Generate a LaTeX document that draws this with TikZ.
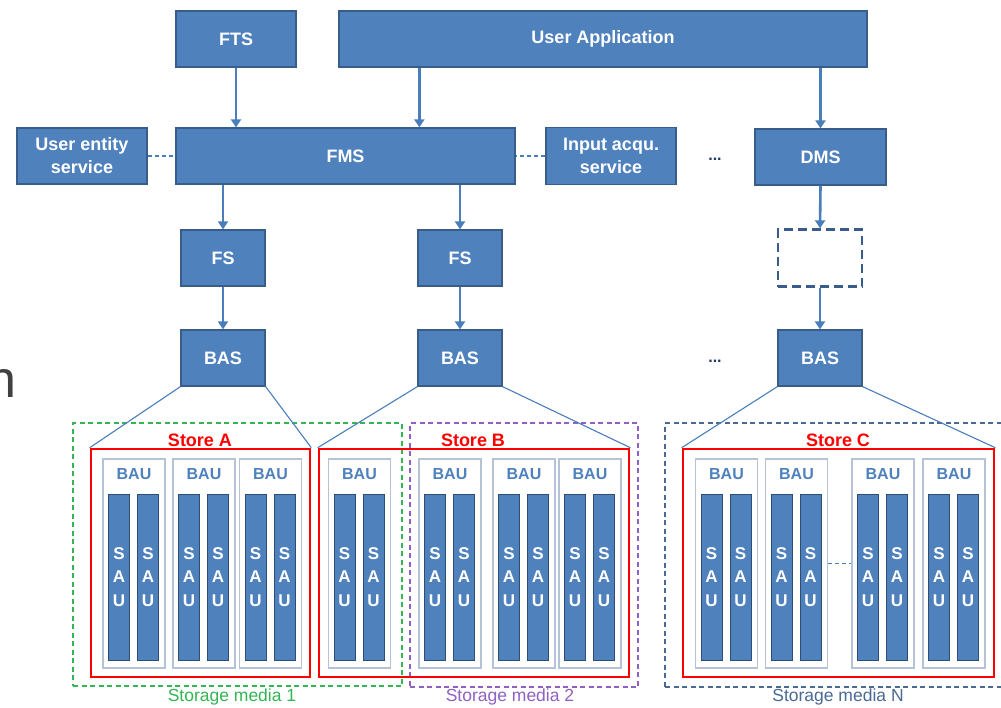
\documentclass[tikz,border=0pt]{standalone}
\usepackage{fontspec}
\setmainfont{Liberation Sans}
\usetikzlibrary{arrows.meta,calc}
\definecolor{boxfill}{HTML}{4F81BD}
\definecolor{boxborder}{HTML}{385D8A}
\definecolor{arrowc}{HTML}{4A7EBB}
\definecolor{bauline}{HTML}{B4C3D7}
\definecolor{sauborder}{HTML}{2C4D75}
\definecolor{storered}{HTML}{FF0000}
\definecolor{mgreen}{HTML}{33B553}
\definecolor{mpurple}{HTML}{9060C4}
\definecolor{mblue}{HTML}{4A6A94}
\definecolor{dotc}{HTML}{1F3864}
\definecolor{graytext}{HTML}{404040}
\tikzset{
  blk/.style={draw=boxborder, fill=boxfill, line width=1.3pt, text=white,
    font=\bfseries\fontsize{18}{23}\selectfont, inner sep=0pt, align=center},
  arr/.style={draw=arrowc, line width=2.6pt, -{Triangle[width=10pt,length=8pt]}},
  dashlink/.style={draw=arrowc, line width=1.3pt, dash pattern=on 4pt off 3pt},
  fan/.style={draw=arrowc, line width=1.1pt},
  media/.style={line width=1.2pt, dash pattern=on 5pt off 3.5pt, inner sep=0pt},
  storebox/.style={draw=storered, line width=2.6pt, inner sep=0pt},
  storelabel/.style={text=storered, font=\bfseries\fontsize{18}{20}\selectfont, inner sep=0pt},
  baubox/.style={draw=bauline, fill=white, line width=1.2pt, minimum width=62pt, minimum height=209pt, inner sep=0pt},
  bautext/.style={text=boxfill, font=\bfseries\fontsize{16}{18}\selectfont, inner sep=0pt},
  saubar/.style={draw=sauborder, fill=boxfill, line width=1pt, minimum width=21pt, minimum height=166pt,
    inner sep=0pt, text=white, align=center, font=\bfseries\fontsize{17}{23.5}\selectfont},
  medialabel/.style={font=\fontsize{17.5}{19}\selectfont, inner sep=0pt},
  dots/.style={text=dotc, font=\bfseries\fontsize{16}{18}\selectfont, inner sep=0pt}
}
\begin{document}
\begin{tikzpicture}[x=1pt,y=-1pt]
\useasboundingbox[fill=white] (0,0) rectangle (1001,707);

% fragment text at left edge (cut off in the reference too)
\node[anchor=base east, inner sep=0pt, text=graytext, font=\fontsize{52}{56}\selectfont] (frag) at (17,397) {n};

% top layer
\node[blk, minimum width=120pt, minimum height=56pt] (FTS) at (236,39) {FTS};
\node[blk, minimum width=528pt, minimum height=56pt] (UA) at (603,39) {User Application};
\node[blk, minimum width=130pt, minimum height=56pt] (UES) at (82,156) {User entity\\service};
\node[blk, minimum width=339pt, minimum height=56pt] (FMS) at (345.5,156) {FMS};
\node[blk, minimum width=130pt, minimum height=57pt] (IAS) at (611,156) {Input acqu.\\service};
\node[blk, minimum width=131pt, minimum height=56pt] (DMS) at (820.5,157) {DMS};
\node[dots] (dots1) at (715,159) {...};

\node[blk, minimum width=84pt, minimum height=56pt] (FS1) at (223,258) {FS};
\node[blk, minimum width=84pt, minimum height=56pt] (FS2) at (460,258) {FS};
\node[draw=boxborder, line width=2.4pt, dash pattern=on 9pt off 5pt, minimum width=84pt, minimum height=57pt, inner sep=0pt] (DX) at (820,258) {};

\node[blk, minimum width=84pt, minimum height=56pt] (BAS1) at (223,358) {BAS};
\node[blk, minimum width=84pt, minimum height=56pt] (BAS2) at (460,358) {BAS};
\node[blk, minimum width=84pt, minimum height=56pt] (BAS3) at (820,358) {BAS};
\node[dots] (dots2) at (715,361) {...};

% arrows
\draw[arr] (FTS.south) -- (FTS.south |- FMS.north);
\draw[arr] ([xshift=81pt]UA.south west) -- ([xshift=81pt]UA.south west |- FMS.north);
\draw[arr] (DMS.north |- UA.south) -- (DMS.north);
\draw[arr] (FS1.north |- FMS.south) -- (FS1.north);
\draw[arr] (FS2.north |- FMS.south) -- (FS2.north);
\draw[arr] (FS1.south) -- (BAS1.north);
\draw[arr] (FS2.south) -- (BAS2.north);
\draw[arr] (DMS.south) -- (DX.north);
\draw[arr] (DX.south) -- (BAS3.north);
\draw[dashlink] (UES.east) -- (FMS.west);
\draw[dashlink] (IAS.west) -- (FMS.east);

% storage media
\node[media, draw=mgreen, minimum width=329pt, minimum height=263pt] (M1) at (237.5,554.5) {};
\node[media, draw=mpurple, minimum width=228pt, minimum height=264pt] (M2) at (524,555) {};
\node[media, draw=mblue, minimum width=338pt, minimum height=264pt] (MN) at (834,555) {};
\node[medialabel, text=mgreen] (L1) at (232,697) {Storage media 1};
\node[medialabel, text=mpurple] (L2) at (510,697) {Storage media 2};
\node[medialabel, text=mblue] (LN) at (838,697) {Storage media N};

% stores
\node[storebox, minimum width=219pt, minimum height=228pt] (SA) at (200.5,563) {};
\node[storebox, minimum width=310pt, minimum height=228pt] (SB) at (474,563) {};
\node[storebox, minimum width=311pt, minimum height=228pt] (SC) at (838.5,563) {};
\node[storelabel] (SAl) at (200,440) {Store A};
\node[storelabel] (SBl) at (473,440) {Store B};
\node[storelabel] (SCl) at (838,440) {Store C};

% BAU + SAU
\foreach \i/\x in {1/134,2/204,3/270.5,4/359.5,5/450,6/524,7/590,8/726.5,9/796.5,10/883,11/954}{
  \node[baubox] (BAU\i) at (\x,563.5) {};
  \node[bautext] (BAUt\i) at (\x,474) {BAU};
  \node[saubar] (SAUa\i) at (\x-15,577) {S\\A\\U};
  \node[saubar] (SAUb\i) at (\x+14,577) {S\\A\\U};
}
\draw[dashlink] (BAU9.east) -- (BAU10.west);

% fan lines from BAS to stores
\draw[fan] (BAS1.south west) -- (SA.north west);
\draw[fan] (BAS1.south east) -- (SA.north east);
\draw[fan] (BAS2.south west) -- (SB.north west);
\draw[fan] (BAS2.south east) -- (SB.north east);
\draw[fan] (BAS3.south west) -- (SC.north west);
\draw[fan] (BAS3.south east) -- (SC.north east);
\end{tikzpicture}
\end{document}
